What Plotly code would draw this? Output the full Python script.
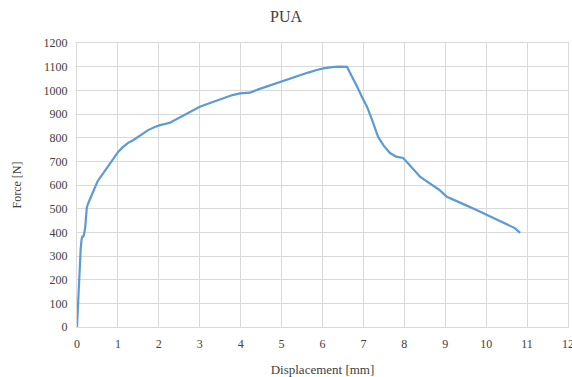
import plotly.graph_objects as go

displacement = [0.0, 0.03, 0.06, 0.09, 0.11, 0.13, 0.15, 0.17, 0.2, 0.24, 0.28, 0.33, 0.38, 0.44, 0.5, 0.57,
                0.64, 0.72, 0.8, 0.9, 1.01, 1.12, 1.25, 1.38, 1.55, 1.74, 1.9, 2.03, 2.27, 2.45, 2.6,
                2.8, 3.0, 3.15, 3.33, 3.5, 3.66, 3.8, 3.98, 4.23, 4.43, 4.7, 5.04, 5.25, 5.45, 5.65,
                5.86, 6.02, 6.23, 6.4, 6.6, 6.72, 6.85, 6.97, 7.09, 7.2, 7.36, 7.5, 7.65, 7.8, 7.97,
                8.1, 8.25, 8.39, 8.55, 8.68, 8.85, 9.04, 9.25, 9.5, 9.75, 10.02, 10.25, 10.5, 10.7, 10.83]
force = [0, 120, 250, 330, 367, 385, 380, 390, 420, 505, 525, 545, 565, 593, 615, 632,
         649, 670, 690, 715, 741, 760, 778, 790, 810, 832, 845, 853, 863, 880, 896,
         913, 931, 940, 952, 962, 973, 980, 987, 990, 1004, 1020, 1041, 1052, 1065, 1075,
         1086, 1093, 1098, 1100, 1099, 1060, 1014, 970, 930, 880, 803, 765, 735, 720, 714,
         690, 660, 634, 615, 600, 580, 550, 535, 515, 495, 473, 455, 435, 418, 398]

x_ticks = list(range(0, 13))
y_ticks = list(range(0, 1201, 100))

fig = go.Figure()
fig.add_trace(go.Scatter(x=displacement, y=force, mode="lines",
                         line=dict(color="#5B9BD5", width=2.2), showlegend=False))

font = "Liberation Serif, Times New Roman, serif"
fig.update_layout(
    width=572, height=377,
    margin=dict(l=77, r=4, t=43, b=50),
    paper_bgcolor="white", plot_bgcolor="white",
    font=dict(family=font, size=12, color="#404040"),
    title=dict(text="PUA", x=0.5, xanchor="center", y=0.957, yanchor="middle",
               font=dict(family=font, size=16, color="#404040")),
)
fig.update_xaxes(range=[0, 12], tickvals=x_ticks, showgrid=True, gridcolor="#d9d9d9",
                 showline=True, linecolor="#d9d9d9", mirror=True, zeroline=False,
                 ticks="", tickfont=dict(size=12, color="#404040"), automargin=False,
                 ticklabelstandoff=6, ticklabeloverflow="allow",
                 title=dict(text="Displacement [mm]", font=dict(size=13, color="#404040"), standoff=16))
fig.update_yaxes(range=[0, 1200], tickvals=y_ticks, showgrid=True, gridcolor="#d9d9d9",
                 showline=True, linecolor="#d9d9d9", mirror=True, zeroline=False,
                 ticks="", tickfont=dict(size=12, color="#404040"), automargin=False,
                 ticklabelstandoff=6,
                 title=dict(text="Force [N]", font=dict(size=12, color="#404040"), standoff=19))

fig.write_html("out.html", config={"displayModeBar": False},
               post_script="document.body.style.margin='0';document.body.style.overflow='hidden';")
